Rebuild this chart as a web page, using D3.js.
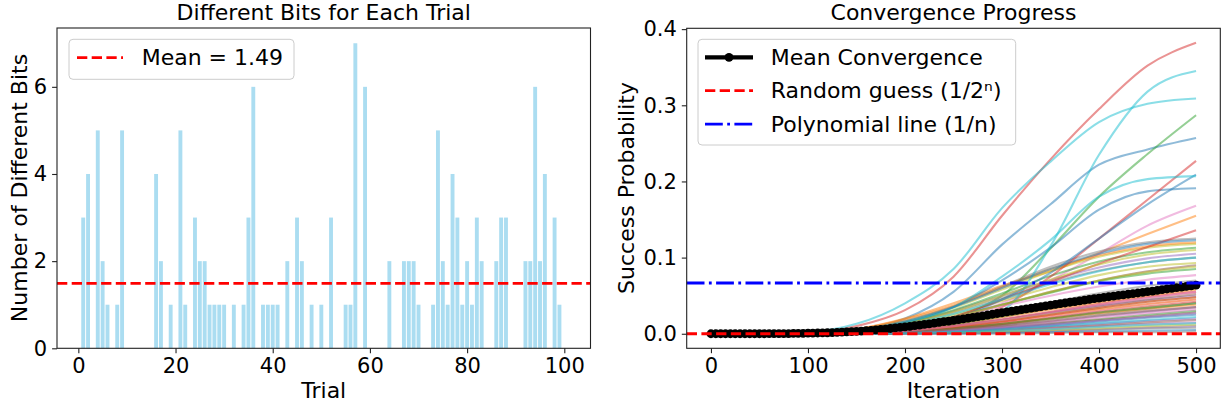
<!DOCTYPE html>
<html>
<head>
<meta charset="utf-8">
<script src="https://cdn.jsdelivr.net/npm/d3@7"></script>
<style>
  body { margin: 0; background: #fff; }
  svg text { font-family: "DejaVu Sans", sans-serif; fill: #000; }
</style>
</head>
<body>
<svg id="chart" width="1228" height="411"></svg>
<script>
// trials 1..100, number of differing bits
const trials = d3.range(1, 101);
const diffBits = [
  3,4,0,5,2,1,0,1,5,0, 0,0,0,0,0,4,2,0,1,0,
  5,1,0,3,2,2,1,1,1,1, 0,1,0,1,3,6,0,1,1,1,
  1,0,2,0,3,2,0,1,0,1, 0,3,0,0,1,1,7,0,6,0,
  0,0,0,2,0,0,2,2,2,1, 0,0,1,5,2,1,4,3,1,2,
  1,3,2,0,0,2,3,3,0,0, 0,2,2,6,2,4,0,3,1,0
];
const leftXTicks = [0, 20, 40, 60, 80, 100];
const leftYTicks = [0, 2, 4, 6];

// success probability per trial, sampled at these iterations
const iterations = [0, 50, 100, 150, 200, 250, 300, 350, 400, 450, 500];
const trialCurves = [
  [0,0,0.001,0.005,0.02,0.055,0.117,0.17,0.222,0.242,0.257],
  [0,0,0.001,0.006,0.02,0.04,0.063,0.082,0.106,0.131,0.155],
  [0,0,0,0.002,0.008,0.022,0.05,0.112,0.18,0.236,0.287],
  [0,0,0.001,0.01,0.031,0.075,0.155,0.229,0.295,0.352,0.382],
  [0,0,0.001,0.004,0.014,0.03,0.05,0.07,0.087,0.099,0.105],
  [0,0,0,0.003,0.01,0.022,0.038,0.055,0.07,0.082,0.09],
  [0,0,0,0.003,0.01,0.022,0.04,0.07,0.105,0.142,0.168],
  [0,0,0.001,0.005,0.017,0.036,0.062,0.088,0.108,0.12,0.125],
  [0,0,0.001,0.005,0.016,0.034,0.058,0.082,0.101,0.113,0.118],
  [0,0,0.002,0.013,0.04,0.085,0.165,0.226,0.278,0.302,0.309],
  [0,0,0.001,0.004,0.014,0.035,0.07,0.113,0.163,0.187,0.191],
  [0,0,0.001,0.006,0.019,0.037,0.061,0.085,0.103,0.115,0.12],
  [0,0,0.001,0.004,0.014,0.031,0.053,0.076,0.095,0.107,0.113],
  [0,0,0,0.002,0.006,0.015,0.035,0.075,0.125,0.176,0.227],
  [0,0,0,0.001,0.004,0.01,0.018,0.027,0.036,0.044,0.05],
  [0,0,0,0.001,0.005,0.012,0.022,0.033,0.043,0.052,0.06],
  [0,0,0,0.001,0.003,0.008,0.015,0.023,0.031,0.039,0.045],
  [0,0,0.001,0.004,0.013,0.028,0.047,0.067,0.083,0.094,0.1],
  [0,0,0,0.003,0.011,0.025,0.043,0.061,0.077,0.088,0.093],
  [0,0,0,0.002,0.006,0.014,0.03,0.115,0.235,0.318,0.345],
  [0,0,0,0.002,0.008,0.02,0.045,0.08,0.125,0.17,0.209],
  [0,0,0,0.002,0.006,0.013,0.022,0.032,0.041,0.05,0.058],
  [0,0,0,0.003,0.01,0.022,0.038,0.054,0.069,0.079,0.085],
  [0,0,0,0.002,0.008,0.022,0.045,0.068,0.092,0.114,0.136],
  [0,0,0,0.001,0.002,0.005,0.01,0.016,0.023,0.029,0.035],
  [0,0,0,0.001,0.004,0.01,0.018,0.028,0.037,0.045,0.052],
  [0,0,0.001,0.004,0.011,0.022,0.036,0.05,0.062,0.071,0.077],
  [0,0,0,0.001,0.003,0.007,0.012,0.019,0.026,0.033,0.04],
  [0,0,0.001,0.004,0.013,0.029,0.05,0.071,0.091,0.104,0.11],
  [0,0,0.001,0.004,0.015,0.035,0.075,0.123,0.18,0.203,0.207],
  [0,0,0.001,0.005,0.016,0.035,0.06,0.085,0.105,0.118,0.123],
  [0,0,0,0.001,0.004,0.009,0.016,0.024,0.032,0.039,0.045],
  [0,0,0,0,0.002,0.005,0.009,0.014,0.019,0.025,0.03],
  [0,0,0,0.001,0.004,0.01,0.019,0.029,0.039,0.048,0.055],
  [0,0,0,0,0.001,0.003,0.006,0.009,0.013,0.017,0.02],
  [0,0,0,0,0.002,0.004,0.008,0.013,0.018,0.023,0.028],
  [0,0,0,0,0.001,0.002,0.004,0.007,0.01,0.013,0.015],
  [0,0,0,0.002,0.007,0.016,0.028,0.041,0.053,0.063,0.07],
  [0,0,0,0.001,0.004,0.009,0.017,0.026,0.034,0.042,0.048],
  [0,0,0.001,0.004,0.012,0.026,0.045,0.065,0.082,0.094,0.1],
  [0,0,0,0,0.001,0.003,0.007,0.011,0.016,0.021,0.025],
  [0,0,0,0.001,0.003,0.007,0.013,0.02,0.027,0.033,0.038],
  [0,0,0,0.002,0.006,0.013,0.023,0.034,0.044,0.053,0.06],
  [0,0,0,0.001,0.003,0.007,0.013,0.021,0.029,0.036,0.042],
  [0,0,0,0,0,0.001,0.002,0.004,0.006,0.008,0.01],
  [0,0,0,0,0.001,0.002,0.005,0.008,0.011,0.015,0.018],
  [0,0,0,0,0.002,0.005,0.009,0.015,0.021,0.027,0.032],
  [0,0,0,0,0,0.001,0.002,0.003,0.005,0.007,0.008],
  [0,0,0,0,0.001,0.002,0.003,0.005,0.007,0.01,0.012],
  [0,0,0,0,0.001,0.003,0.006,0.01,0.014,0.018,0.022],
  [0,0,0,0,0,0,0.001,0.002,0.003,0.004,0.005],
  [0,0,0,0.002,0.006,0.014,0.025,0.037,0.048,0.058,0.065],
  [0,0,0,0.001,0.003,0.007,0.013,0.02,0.028,0.034,0.04],
  [0,0,0,0.001,0.004,0.009,0.016,0.025,0.034,0.042,0.048],
  [0,0,0,0,0.002,0.004,0.008,0.012,0.017,0.022,0.027],
  [0,0,0,0.001,0.002,0.006,0.011,0.017,0.024,0.03,0.035],
  [0,0,0,0.001,0.004,0.01,0.018,0.028,0.038,0.047,0.055],
  [0,0,0,0,0,0,0,0.001,0.002,0.002,0.003],
  [0,0,0.001,0.003,0.01,0.022,0.038,0.055,0.07,0.081,0.088],
  [0,0,0,0,0.001,0.002,0.004,0.006,0.009,0.012,0.014]
];

// mean convergence, every 5 iterations
const meanIterations = d3.range(0, 501, 5);
const meanValues = [
  0,0,0,0,0,0,0,0,0,0,0,0,
  0.0001,0.0001,0.0002,0.0002,0.0003,0.0004,0.0005,0.0006,0.0007,0.0008,
  0.001,0.0011,0.0013,0.0015,0.0018,0.0021,0.0024,0.0027,0.003,0.0035,
  0.004,0.0045,0.005,0.0056,0.0062,0.0069,0.0076,0.0083,0.009,0.0098,
  0.0106,0.0114,0.0123,0.0131,0.014,0.0149,0.0158,0.0167,0.0177,0.0186,
  0.0196,0.0206,0.0216,0.0226,0.0236,0.0246,0.0256,0.0266,0.0276,0.0286,
  0.0296,0.0306,0.0316,0.0326,0.0336,0.0346,0.0356,0.0366,0.0376,0.0385,
  0.0395,0.0404,0.0414,0.0423,0.0433,0.0442,0.0451,0.046,0.0469,0.0478,
  0.0486,0.0495,0.0503,0.0511,0.0519,0.0527,0.0535,0.0543,0.0552,0.0561,
  0.057,0.0579,0.0588,0.0596,0.0605,0.0613,0.0622,0.063,0.0638
];
const nQubits = 15;
const rightXTicks = [0, 100, 200, 300, 400, 500];
const rightYTicks = [0, 0.1, 0.2, 0.3, 0.4];

const svg = d3.select("#chart");
const tickFont = "21px";
const labelFont = "22px";
const titleFont = "22px";

function frame(g, x, y) {
  const [x0, x1] = x.range();
  const [y0, y1] = y.range();
  g.append("rect")
    .attr("x", x0).attr("y", y1)
    .attr("width", x1 - x0).attr("height", y0 - y1)
    .attr("fill", "none").attr("stroke", "#222").attr("stroke-width", 1.1);
}

function styleAxis(sel) {
  sel.select(".domain").remove();
  sel.selectAll(".tick line").attr("stroke", "#222").attr("stroke-width", 1.1);
  sel.selectAll(".tick text").style("font-size", tickFont).attr("fill", "#000");
}

function legendBox(g, x, y, w, h) {
  g.append("rect")
    .attr("x", x).attr("y", y).attr("width", w).attr("height", h)
    .attr("rx", 4)
    .attr("fill", "#fff").attr("fill-opacity", 0.8)
    .attr("stroke", "#ccc").attr("stroke-width", 1);
}

// ---- left: bar chart ----
function drawBars() {
  const g = svg.append("g");
  const x = d3.scaleLinear().domain([-4.39, 105.39]).range([57, 590.5]);
  const y = d3.scaleLinear().domain([0, 7.35]).range([348.3, 28]);
  const bw = x(0.8) - x(0);

  g.selectAll(".bar")
    .data(trials)
    .enter()
    .append("rect")
    .attr("class", "bar")
    .attr("x", (d, i) => x(d - 0.4))
    .attr("y", (d, i) => y(diffBits[i]))
    .attr("width", bw)
    .attr("height", (d, i) => y(0) - y(diffBits[i]))
    .attr("fill", "skyblue")
    .attr("fill-opacity", 0.7);

  const mean = d3.mean(diffBits);
  g.append("line")
    .attr("x1", x.range()[0]).attr("x2", x.range()[1])
    .attr("y1", y(mean)).attr("y2", y(mean))
    .attr("stroke", "red").attr("stroke-width", 2.8)
    .attr("stroke-dasharray", "10.3,4.4");

  frame(g, x, y);

  g.append("g")
    .attr("transform", `translate(0, ${y(0)})`)
    .call(d3.axisBottom(x).tickValues(leftXTicks).tickSize(4.9).tickPadding(4.9))
    .call(styleAxis);
  g.append("g")
    .attr("transform", `translate(${x.range()[0]}, 0)`)
    .call(d3.axisLeft(y).tickValues(leftYTicks).tickSize(4.9).tickPadding(4.9))
    .call(styleAxis);

  g.append("text")
    .attr("x", (57 + 590.5) / 2).attr("y", 20)
    .attr("text-anchor", "middle").style("font-size", titleFont)
    .text("Different Bits for Each Trial");
  g.append("text")
    .attr("x", (57 + 590.5) / 2).attr("y", 398)
    .attr("text-anchor", "middle").style("font-size", labelFont)
    .text("Trial");
  g.append("text")
    .attr("transform", `translate(27, 188) rotate(-90)`)
    .attr("text-anchor", "middle").style("font-size", labelFont)
    .text("Number of Different Bits");

  legendBox(g, 69, 39.3, 225, 40);
  g.append("line")
    .attr("x1", 77).attr("x2", 123).attr("y1", 57.7).attr("y2", 57.7)
    .attr("stroke", "red").attr("stroke-width", 2.8)
    .attr("stroke-dasharray", "10.3,4.4");
  g.append("text")
    .attr("x", 141.7).attr("y", 57.7)
    .attr("dominant-baseline", "central").style("font-size", labelFont)
    .text(`Mean = ${mean.toFixed(2)}`);
}

// ---- right: convergence lines ----
function drawConvergence() {
  const g = svg.append("g");
  const x = d3.scaleLinear().domain([-25, 525]).range([686.7, 1220.3]);
  const y = d3.scaleLinear().domain([-0.0191, 0.4011]).range([348.3, 28.3]);
  const colors = d3.schemeCategory10;

  const line = d3.line()
    .x((d, i) => x(iterations[i]))
    .y(d => y(d))
    .curve(d3.curveMonotoneX);

  g.selectAll(".trial")
    .data(trialCurves)
    .enter()
    .append("path")
    .attr("class", "trial")
    .attr("d", line)
    .attr("fill", "none")
    .attr("stroke", (d, i) => colors[i % 10])
    .attr("stroke-opacity", 0.5)
    .attr("stroke-width", 2.1);

  const meanLine = d3.line()
    .x((d, i) => x(meanIterations[i]))
    .y(d => y(d));
  g.append("path")
    .attr("d", meanLine(meanValues))
    .attr("fill", "none").attr("stroke", "#000").attr("stroke-width", 4.2);
  g.selectAll(".dot")
    .data(meanValues)
    .enter()
    .append("circle")
    .attr("class", "dot")
    .attr("cx", (d, i) => x(meanIterations[i]))
    .attr("cy", d => y(d))
    .attr("r", 4.4)
    .attr("fill", "#000");

  g.append("line")
    .attr("x1", x.range()[0]).attr("x2", x.range()[1])
    .attr("y1", y(1 / Math.pow(2, nQubits))).attr("y2", y(1 / Math.pow(2, nQubits)))
    .attr("stroke", "red").attr("stroke-width", 2.8)
    .attr("stroke-dasharray", "10.3,4.4");
  g.append("line")
    .attr("x1", x.range()[0]).attr("x2", x.range()[1])
    .attr("y1", y(1 / nQubits)).attr("y2", y(1 / nQubits))
    .attr("stroke", "blue").attr("stroke-width", 2.8)
    .attr("stroke-dasharray", "17.8,4.4,2.8,4.4");

  frame(g, x, y);

  g.append("g")
    .attr("transform", `translate(0, ${y.range()[0]})`)
    .call(d3.axisBottom(x).tickValues(rightXTicks).tickSize(4.9).tickPadding(4.9))
    .call(styleAxis);
  g.append("g")
    .attr("transform", `translate(${x.range()[0]}, 0)`)
    .call(d3.axisLeft(y).tickValues(rightYTicks).tickFormat(d3.format(".1f")).tickSize(4.9).tickPadding(4.9))
    .call(styleAxis);

  g.append("text")
    .attr("x", (686.7 + 1220.3) / 2).attr("y", 20)
    .attr("text-anchor", "middle").style("font-size", titleFont)
    .text("Convergence Progress");
  g.append("text")
    .attr("x", (686.7 + 1220.3) / 2).attr("y", 398)
    .attr("text-anchor", "middle").style("font-size", labelFont)
    .text("Iteration");
  g.append("text")
    .attr("transform", `translate(634, 188) rotate(-90)`)
    .attr("text-anchor", "middle").style("font-size", labelFont)
    .text("Success Probability");

  // legend
  legendBox(g, 698, 39.3, 317.7, 105.7);
  const rows = [
    { label: "Mean Convergence", color: "#000", width: 4.2, dash: null, dot: true },
    { label: "Random guess (1/2ⁿ)", color: "red", width: 2.8, dash: "10.3,4.4", dot: false },
    { label: "Polynomial line (1/n)", color: "blue", width: 2.8, dash: "17.8,4.4,2.8,4.4", dot: false }
  ];
  rows.forEach((r, i) => {
    const cy = 57.3 + i * 33.4;
    g.append("line")
      .attr("x1", 705).attr("x2", 753).attr("y1", cy).attr("y2", cy)
      .attr("stroke", r.color).attr("stroke-width", r.width)
      .attr("stroke-dasharray", r.dash);
    if (r.dot) {
      g.append("circle").attr("cx", 729).attr("cy", cy).attr("r", 4.4).attr("fill", "#000");
    }
    g.append("text")
      .attr("x", 770.7).attr("y", cy)
      .attr("dominant-baseline", "central").style("font-size", labelFont)
      .text(r.label);
  });
}

drawBars();
drawConvergence();
</script>
</body>
</html>
